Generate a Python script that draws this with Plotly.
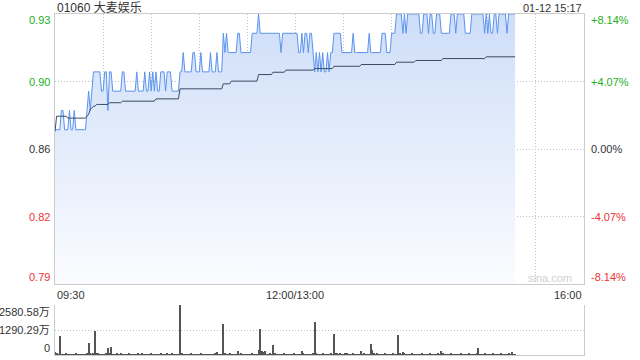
import plotly.graph_objects as go

TITLE = "01060 大麦娱乐"
TIMESTAMP = "01-12 15:17"
WATERMARK = "sina.com"

# minute-by-minute last price as (price, number of minutes) runs, 09:30 -> 15:17
PRICE_RUNS = [
    (0.87, 4), (0.88, 2), (0.87, 3), (0.88, 1), (0.87, 2), (0.88, 1), (0.87, 7),
    (0.88, 1), (0.89, 1), (0.88, 1), (0.89, 1), (0.90, 5), (0.89, 2), (0.90, 2),
    (0.88, 1), (0.90, 2), (0.89, 6), (0.90, 2), (0.89, 7), (0.90, 1), (0.89, 4),
    (0.90, 1), (0.89, 2), (0.90, 1), (0.89, 1), (0.90, 1), (0.89, 1), (0.90, 1),
    (0.89, 2), (0.90, 3), (0.89, 1), (0.90, 3), (0.89, 5), (0.90, 2), (0.91, 1),
    (0.90, 5), (0.91, 2), (0.90, 3), (0.91, 1), (0.90, 5), (0.91, 1), (0.90, 3),
    (0.91, 1), (0.90, 3), (0.92, 1), (0.91, 1), (0.92, 1), (0.91, 6), (0.92, 2),
    (0.91, 7), (0.92, 4), (0.93, 1), (0.92, 13), (0.91, 1), (0.92, 10), (0.91, 2),
    (0.92, 1), (0.91, 1), (0.92, 2), (0.91, 1), (0.92, 2), (0.91, 1), (0.90, 1),
    (0.91, 1), (0.90, 1), (0.91, 1), (0.90, 1), (0.91, 1), (0.90, 2), (0.91, 1),
    (0.90, 1), (0.91, 2), (0.92, 5), (0.91, 7), (0.92, 1), (0.91, 9), (0.92, 1),
    (0.91, 7), (0.92, 3), (0.91, 3), (0.92, 3), (0.93, 4), (0.92, 1), (0.93, 1),
    (0.92, 1), (0.93, 8), (0.92, 2), (0.93, 3), (0.92, 1), (0.93, 2), (0.92, 2),
    (0.93, 3), (0.92, 6), (0.93, 3), (0.92, 1), (0.93, 5), (0.92, 4), (0.93, 8),
    (0.92, 1), (0.93, 1), (0.92, 1), (0.93, 1), (0.92, 2), (0.93, 2), (0.92, 1),
    (0.93, 5), (0.92, 1), (0.93, 5),
]

# average price line as (price, number of minutes) runs
AVG_RUNS = [
    (0.869, 1), (0.877, 7), (0.876, 12), (0.877, 1), (0.878, 1), (0.8805, 1),
    (0.8815, 1), (0.8822, 2), (0.8831, 8), (0.884, 8), (0.8848, 21), (0.886, 15),
    (0.8912, 27), (0.8938, 5), (0.8952, 17), (0.8986, 9), (0.8998, 8),
    (0.9009, 18), (0.9017, 12), (0.9029, 17), (0.9038, 22), (0.905, 12),
    (0.9059, 17), (0.9069, 27), (0.9078, 19),
]

# volume per minute, in 万 shares
VOLUME = [
    150, 60, 40, 970, 50, 30, 40, 60, 30, 50, 20, 40, 30, 60, 20, 30, 50, 40, 30, 20, 60, 634, 80, 40,
    90, 1254, 60, 120, 40, 30, 50, 20, 60, 377, 80, 429, 50, 40, 30, 60, 40, 100, 30, 50, 20, 40, 60, 30,
    40, 50, 30, 20, 60, 40, 110, 30, 50, 40, 20, 30, 60, 40, 50, 30, 20, 40, 60, 30, 50, 40, 70, 30,
    40, 60, 30, 50, 40, 20, 2580.58, 60, 40, 30, 50, 20, 40, 60, 30, 50, 40, 30, 20, 60, 40, 50, 30, 40,
    20, 50, 40, 30, 60, 160, 40, 30, 50, 1600, 70, 40, 30, 60, 40, 20, 50, 30, 190, 40, 60, 30, 40, 50,
    30, 20, 40, 60, 30, 50, 40, 260, 1326, 220, 150, 200, 40, 30, 60, 40, 516, 80, 40, 30, 50, 40, 20, 60,
    40, 30, 50, 20, 40, 60, 30, 50, 40, 30, 200, 60, 40, 30, 50, 20, 40, 60, 1720, 80, 40, 50, 30, 60,
    40, 30, 50, 40, 60, 30, 1084, 60, 80, 40, 100, 50, 30, 60, 90, 40, 50, 30, 60, 40, 30, 50, 40, 230,
    40, 60, 30, 50, 40, 568, 260, 80, 40, 60, 30, 50, 40, 30, 60, 40, 50, 30, 40, 60, 30, 50, 1032, 80,
    40, 150, 60, 30, 50, 40, 30, 60, 40, 50, 30, 20, 40, 60, 30, 50, 40, 30, 60, 40, 50, 30, 40, 60,
    30, 230, 60, 40, 50, 30, 40, 60, 30, 50, 40, 20, 30, 60, 40, 50, 30, 40, 60, 30, 50, 40, 30, 60,
    377, 50, 40, 30, 60, 40, 50, 30, 40, 60, 30, 50, 40, 30, 60, 40, 50, 30, 40, 60, 30, 130, 40, 50,
]

Y_TICKS = [0.79, 0.825, 0.86, 0.895, 0.93]
Y_LABELS = ["0.79", "0.82", "0.86", "0.90", "0.93"]
PCT_LABELS = ["-8.14%", "-4.07%", "0.00%", "+4.07%", "+8.14%"]
X_GRID = [0, 30, 60, 90, 120, 150, 180, 210, 240, 270, 300, 330]
X_LABEL_POS = [0, 150, 330]
X_LABELS = ["09:30", "12:00/13:00", "16:00"]
VOL_TICKS = [0, 1290.29, 2580.58]
VOL_LABELS = ["0", "1290.29万", "2580.58万"]

price = [p for p, n in PRICE_RUNS for _ in range(n)]
avg = [p for p, n in AVG_RUNS for _ in range(n)]
minutes = list(range(len(price)))

GREEN = "#24b024"
RED = "#ee3333"
DARK = "#333333"
GRID = "#c0c0c8"
BORDER = "#cccccc"
FONT = "Liberation Sans, Arial, Noto Sans CJK SC, sans-serif"

fig = go.Figure()
fig.add_trace(go.Scatter(
    x=minutes, y=price, mode="lines", line=dict(color="#5b93f0", width=1),
    fill="tozeroy",
    fillgradient=dict(type="vertical", start=0.79, stop=0.93,
                      colorscale=[[0, "rgba(251,252,255,1)"], [1, "rgba(206,222,248,1)"]]),
    xaxis="x", yaxis="y", hoverinfo="skip",
))
fig.add_trace(go.Scatter(
    x=minutes, y=avg, mode="lines", line=dict(color="#3b4b63", width=1),
    xaxis="x", yaxis="y", hoverinfo="skip",
))
fig.add_trace(go.Bar(
    x=list(range(len(VOLUME))), y=VOLUME, width=0.7,
    marker=dict(color="#555555", line=dict(width=0)),
    xaxis="x2", yaxis="y2", hoverinfo="skip",
))

label_colors = [RED, RED, DARK, GREEN, GREEN]
label_shift = [7, 0, 0, 0, -6]
ann = []
for v, t, pc, c, s in zip(Y_TICKS, Y_LABELS, PCT_LABELS, label_colors, label_shift):
    ann.append(dict(x=0, xref="paper", y=v, yref="y", text=t, showarrow=False,
                    xanchor="right", xshift=-3, yshift=s, font=dict(color=c, size=11)))
    ann.append(dict(x=1, xref="paper", y=v, yref="y", text=pc, showarrow=False,
                    xanchor="left", xshift=5, yshift=s, font=dict(color=c, size=11)))
for xp, t, a in zip(X_LABEL_POS, X_LABELS, ["left", "center", "right"]):
    ann.append(dict(x=xp, xref="x", y=0.79, yref="y", text=t, showarrow=False,
                    xanchor=a, yanchor="top", yshift=-3, font=dict(color=DARK, size=11)))
for v, t, s in zip(VOL_TICKS, VOL_LABELS, [7, 0, -7]):
    ann.append(dict(x=0, xref="paper", y=v, yref="y2", text=t, showarrow=False,
                    xanchor="right", xshift=-3, yshift=s, font=dict(color=DARK, size=11)))
ann.append(dict(x=0, xref="paper", y=1, yref="paper", text=TITLE, showarrow=False,
                xanchor="left", yanchor="bottom", yshift=-3, font=dict(color=DARK, size=12)))
ann.append(dict(x=1, xref="paper", y=1, yref="paper", text=TIMESTAMP, showarrow=False,
                xanchor="right", yanchor="bottom", yshift=-2, font=dict(color=DARK, size=11)))
ann.append(dict(x=330, xref="x", y=0.79, yref="y", text=WATERMARK, showarrow=False,
                xanchor="right", yanchor="bottom", xshift=-10, yshift=-2,
                font=dict(color="#cfcfcf", size=11)))

fig.update_layout(
    width=640, height=360,
    margin=dict(l=55, r=56, t=14, b=5),
    paper_bgcolor="white", plot_bgcolor="white",
    showlegend=False,
    font=dict(family=FONT, size=11, color=DARK),
    annotations=ann,
    xaxis=dict(domain=[0, 1], range=[0, 330], anchor="y", tickvals=X_GRID,
               showticklabels=False, ticks="", showgrid=True, gridcolor=GRID,
               griddash="1px,2px", gridwidth=1, showline=True, linecolor=BORDER,
               linewidth=1, mirror=True, zeroline=False),
    yaxis=dict(domain=[0.2082, 1], range=[0.79, 0.93], anchor="x",
               tickvals=Y_TICKS[1:4], showticklabels=False, ticks="",
               showgrid=True, gridcolor=GRID, griddash="1px,2px", gridwidth=1,
               showline=True, linecolor=BORDER, linewidth=1, mirror=True,
               zeroline=False),
    xaxis2=dict(domain=[0, 1], range=[0, 330], anchor="y2", showticklabels=False,
                ticks="", showgrid=False, showline=True, linecolor=BORDER,
                linewidth=1, zeroline=False),
    yaxis2=dict(domain=[0, 0.1466], range=[0, 2580.58], anchor="x2",
                tickvals=VOL_TICKS[1:], showticklabels=False, ticks="",
                showgrid=True, gridcolor=GRID, griddash="1px,2px", gridwidth=1,
                showline=True, linecolor=BORDER, linewidth=1, mirror=True,
                zeroline=False),
    bargap=0,
)

fig.write_html("out.html")
